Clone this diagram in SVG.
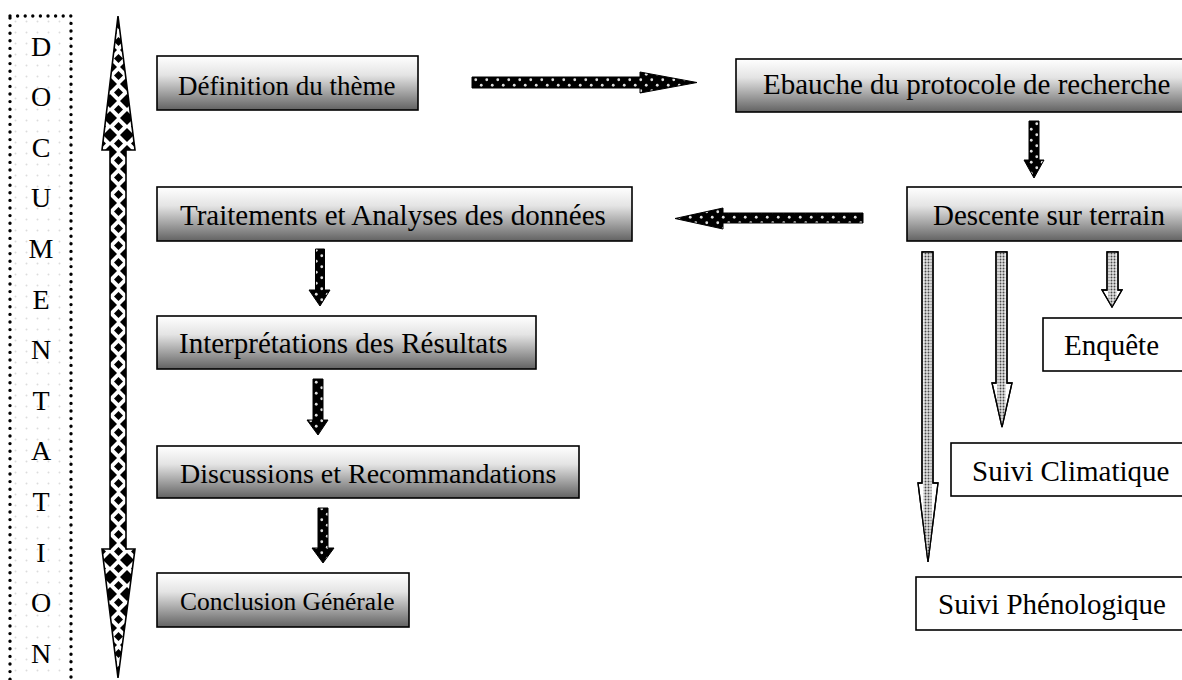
<svg xmlns="http://www.w3.org/2000/svg" width="1182" height="680" viewBox="0 0 1182 680">
<defs>
<linearGradient id="grad" x1="0" y1="0" x2="0" y2="1">
<stop offset="0" stop-color="#ffffff"/>
<stop offset="0.35" stop-color="#e4e4e4"/>
<stop offset="1" stop-color="#626262"/>
</linearGradient>
<pattern id="darkdots" patternUnits="userSpaceOnUse" width="11" height="11">
<rect width="11" height="11" fill="#000"/>
<circle cx="2.75" cy="2.75" r="1.4" fill="#e0e0e0"/>
<circle cx="8.25" cy="8.25" r="1.4" fill="#e0e0e0"/>
</pattern>
<pattern id="greydots" patternUnits="userSpaceOnUse" width="3" height="3">
<rect width="3" height="3" fill="#e0e0e0"/>
<circle cx="1.5" cy="1.5" r="0.95" fill="#4a4a4a"/>
</pattern>
<pattern id="diamonds" patternUnits="userSpaceOnUse" x="110" y="16" width="17" height="17">
<rect width="17" height="17" fill="#fff"/>
<polygon points="0,-7 7,0 0,7 -7,0" fill="#000"/>
<polygon points="17,-7 24,0 17,7 10,0" fill="#000"/>
<polygon points="0,10 7,17 0,24 -7,17" fill="#000"/>
<polygon points="17,10 24,17 17,24 10,17" fill="#000"/>
<polygon points="8.5,4 13,8.5 8.5,13 4,8.5" fill="#000"/>
</pattern>
<pattern id="faint" patternUnits="userSpaceOnUse" x="10" y="16" width="11" height="11">
<circle cx="5.5" cy="5.5" r="1" fill="#dcdcdc"/>
</pattern>
<clipPath id="clipL"><polygon points="922,252 933,252 933,483 938,483 928,562 918,483 922,483"/></clipPath>
<clipPath id="clipM"><polygon points="996,252 1007,252 1007,383 1012,383 1002,427 992,383 996,383"/></clipPath>
<clipPath id="clipR"><polygon points="1107,252 1118,252 1118,290 1122,290 1112,307 1102,290 1107,290"/></clipPath>
</defs>
<style>
.box{fill:url(#grad);stroke:#000;stroke-width:1.6}
.plain{fill:#fff;stroke:#000;stroke-width:1.6}
.t{font-family:"Liberation Serif","Times New Roman",serif;font-size:29px;fill:#000}
.letter{font-family:"Liberation Serif","Times New Roman",serif;font-size:28px;fill:#000;text-anchor:middle}
.dark{fill:url(#darkdots);stroke:#000;stroke-width:1}
.hollow{fill:#fff;stroke:#000;stroke-width:1.3}
.hollowline{fill:none;stroke:#000;stroke-width:1.3}
</style>
<rect width="1182" height="680" fill="#fff"/>

<g id="documentation">
<rect x="10" y="16" width="61" height="700" fill="url(#faint)" stroke="#000" stroke-width="3.4" stroke-dasharray="0 7.6" stroke-linecap="round"/>
<text class="letter" x="41" y="55.5">D</text>
<text class="letter" x="41" y="106.1">O</text>
<text class="letter" x="41" y="156.7">C</text>
<text class="letter" x="41" y="207.3">U</text>
<text class="letter" x="41" y="257.9">M</text>
<text class="letter" x="41" y="308.5">E</text>
<text class="letter" x="41" y="359.1">N</text>
<text class="letter" x="41" y="409.7">T</text>
<text class="letter" x="41" y="460.3">A</text>
<text class="letter" x="41" y="510.9">T</text>
<text class="letter" x="41" y="561.5">I</text>
<text class="letter" x="41" y="612.1">O</text>
<text class="letter" x="41" y="662.7">N</text>
</g>

<g id="connectors">
<polygon points="118,16 135,150 126,150 126,549 135,549 118,678 102,549 110,549 110,150 102,150" fill="url(#diamonds)" stroke="#000" stroke-width="1.6"/>
<polygon class="dark" points="472,77 640,77 640,72 697,82.5 640,93 640,88 472,88"/>
<polygon class="dark" points="1029,121 1039,121 1039,160 1044,160 1034,178 1024,160 1029,160"/>
<polygon class="dark" points="863,213 723,213 723,208 675,218.5 723,229 723,223 863,223"/>
<polygon class="dark" points="315.5,249 324.5,249 324.5,290 330,290 320,306 309,290 315.5,290"/>
<polygon class="dark" points="313,379 323,379 323,420 328,420 318,435 307,420 313,420"/>
<polygon class="dark" points="318,508 328,508 328,548 334,548 323,563 312,548 318,548"/>
<g>
<polygon class="hollow" points="922,252 933,252 933,483 938,483 928,562 918,483 922,483"/>
<rect x="923.5" y="252" width="8" height="310" fill="url(#greydots)" clip-path="url(#clipL)"/>
<polygon class="hollowline" points="922,252 933,252 933,483 938,483 928,562 918,483 922,483"/>
</g>
<g>
<polygon class="hollow" points="996,252 1007,252 1007,383 1012,383 1002,427 992,383 996,383"/>
<rect x="997.5" y="252" width="8" height="175" fill="url(#greydots)" clip-path="url(#clipM)"/>
<polygon class="hollowline" points="996,252 1007,252 1007,383 1012,383 1002,427 992,383 996,383"/>
</g>
<g>
<polygon class="hollow" points="1107,252 1118,252 1118,290 1122,290 1112,307 1102,290 1107,290"/>
<rect x="1108.5" y="252" width="8" height="55" fill="url(#greydots)" clip-path="url(#clipR)"/>
<polygon class="hollowline" points="1107,252 1118,252 1118,290 1122,290 1112,307 1102,290 1107,290"/>
</g>
</g>

<g id="definition">
<rect class="box" x="157" y="56" width="261" height="54"/>
<text class="t" x="178" y="95" style="font-size:27px">Définition du thème</text>
</g>
<g id="ebauche">
<rect class="box" x="736" y="59" width="460" height="53"/>
<text class="t" x="763" y="94">Ebauche du protocole de recherche</text>
</g>
<g id="descente">
<rect class="box" x="907" y="187" width="290" height="54"/>
<text class="t" x="933" y="225">Descente sur terrain</text>
</g>
<g id="traitements">
<rect class="box" x="157" y="187" width="475" height="54"/>
<text class="t" x="180" y="225">Traitements et Analyses des données</text>
</g>
<g id="interpretations">
<rect class="box" x="157" y="316" width="379" height="53"/>
<text class="t" x="179" y="353">Interprétations des Résultats</text>
</g>
<g id="discussions">
<rect class="box" x="157" y="446" width="422" height="52"/>
<text class="t" x="180" y="483" style="font-size:28px">Discussions et Recommandations</text>
</g>
<g id="conclusion">
<rect class="box" x="157" y="573" width="252" height="54"/>
<text class="t" x="180" y="610" style="font-size:25.5px">Conclusion Générale</text>
</g>
<g id="enquete">
<rect class="plain" x="1043" y="318" width="150" height="53"/>
<text class="t" x="1064" y="355">Enquête</text>
</g>
<g id="climatique">
<rect class="plain" x="951" y="443" width="240" height="53"/>
<text class="t" x="972" y="481">Suivi Climatique</text>
</g>
<g id="phenologique">
<rect class="plain" x="916" y="577" width="280" height="53"/>
<text class="t" x="938" y="614">Suivi Phénologique</text>
</g>
</svg>
